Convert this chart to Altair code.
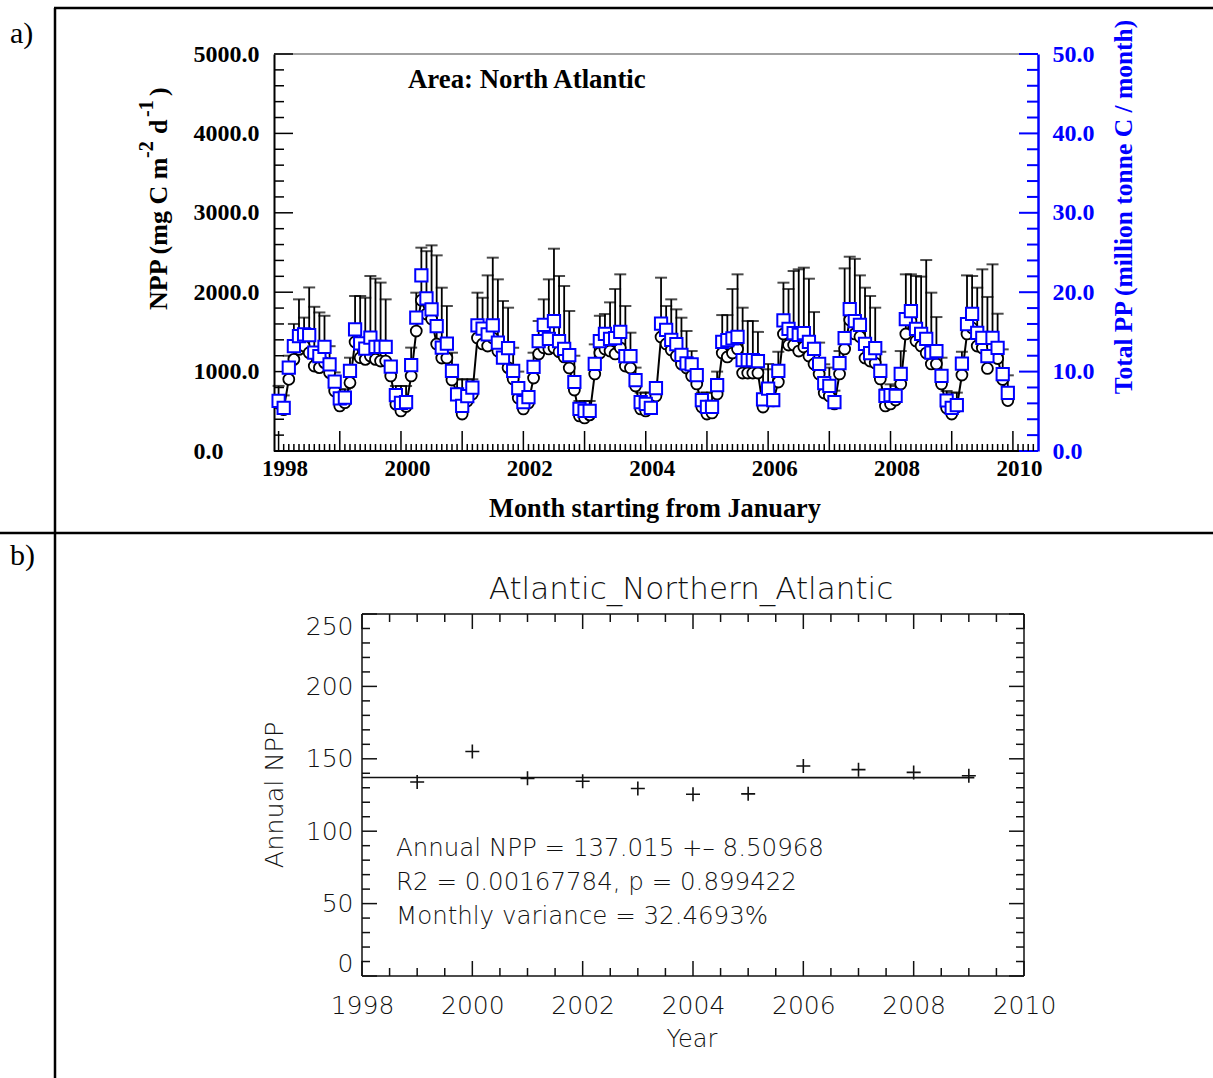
import altair as alt
import numpy as np
import pandas as pd

# ---------------------------------------------------------------------------
# Monthly North Atlantic series, January 1998 .. December 2009
# ---------------------------------------------------------------------------
# mean NPP (mg C m-2 d-1), open black circles
npp_mean = [
    600, 520, 903, 1154, 1280, 1322, 1238, 1070, 1050, 1113, 987, 756,    # 1998
    567, 609, 861, 1373, 1175, 1154, 1196, 1154, 1133, 1133, 945, 588,    # 1999
    504, 560, 945, 1511, 1900, 1725, 1662, 1348, 1171, 1171, 894, 730,    # 2000
    466, 630, 718, 1423, 1348, 1322, 1423, 1259, 1171, 1050, 907, 667,    # 2001
    529, 605, 919, 1222, 1300, 1285, 1300, 1250, 1184, 1045, 768, 441,    # 2002
    416, 455, 970, 1234, 1285, 1259, 1222, 1300, 1070, 1045, 819, 529,    # 2003
    504, 542, 693, 1436, 1348, 1272, 1196, 1096, 1045, 945, 844, 554,     # 2004
    466, 479, 718, 1234, 1184, 1234, 1285, 982, 982, 982, 982, 554,       # 2005
    660, 630, 869, 1474, 1335, 1335, 1259, 1310, 1196, 1096, 970, 730,    # 2006
    693, 592, 970, 1285, 1650, 1474, 1440, 1171, 1133, 1108, 907, 567,    # 2007
    592, 642, 844, 1474, 1637, 1385, 1323, 1234, 1096, 1096, 844, 542,    # 2008
    466, 554, 957, 1474, 1550, 1322, 1297, 1040, 1310, 1165, 900, 635,    # 2009
]
# mean + one standard deviation (top of the error bar)
npp_upper = [
    820, 700, 1200, 1600, 1910, 1680, 2060, 1816, 1745, 1703, 1320, 990,
    777, 777, 1175, 1952, 1952, 1930, 2204, 2171, 2121, 1910, 1100, 819,
    819, 819, 1302, 1994, 2561, 2517, 2590, 2464, 2057, 1826, 1238, 903,
    903, 903, 903, 1994, 1930, 2212, 2435, 2162, 1889, 1805, 1300, 1000,
    700, 750, 1238, 1637, 1910, 2162, 2548, 2204, 2078, 1763, 1200, 630,
    630, 630, 1343, 1703, 1725, 1872, 2040, 2225, 1826, 1490, 1050, 735,
    735, 735, 800, 2183, 1826, 1910, 1784, 1679, 1511, 1259, 1000, 735,
    735, 735, 1000, 1712, 1712, 2040, 2225, 1805, 1637, 1637, 1500, 1029,
    1096, 1029, 1250, 2120, 2040, 2267, 2288, 2309, 2170, 1750, 1365, 1092,
    1050, 760, 1259, 2300, 2447, 2420, 2212, 2057, 1952, 1805, 1250, 777,
    840, 819, 1259, 2225, 2225, 2204, 2196, 2405, 1994, 1687, 1175, 756,
    735, 735, 1250, 2212, 2204, 2057, 2288, 1940, 2351, 1729, 1280, 953,
]
# total PP (million tonne C / month), blue squares on the right axis
total_pp = [
    6.31, 5.43, 10.50, 13.22, 14.48, 14.70, 14.60, 12.38, 11.96, 13.10, 10.91, 8.73,
    6.63, 6.72, 10.08, 15.32, 13.56, 12.89, 14.28, 13.10, 13.10, 13.10, 10.62, 7.05,
    6.05, 6.17, 10.83, 16.80, 22.12, 19.22, 17.84, 15.74, 13.02, 13.52, 10.08, 7.14,
    5.67, 6.92, 7.97, 15.83, 15.41, 14.70, 15.83, 13.65, 11.75, 12.97, 10.08, 7.93,
    6.17, 6.80, 10.58, 13.85, 15.87, 14.11, 16.37, 13.85, 12.85, 12.09, 8.69, 5.29,
    5.04, 5.04, 10.96, 13.85, 14.74, 14.11, 14.23, 14.99, 11.96, 11.96, 8.94, 6.17,
    5.92, 5.42, 7.93, 16.03, 15.24, 14.00, 13.45, 12.10, 11.05, 10.91, 9.57, 6.40,
    5.56, 5.56, 8.31, 13.73, 13.96, 14.19, 14.38, 11.44, 11.44, 11.44, 11.33, 6.50,
    7.85, 6.42, 10.08, 16.45, 15.37, 14.86, 14.61, 14.86, 13.73, 12.85, 10.96, 8.56,
    8.19, 6.17, 11.08, 14.23, 17.88, 16.37, 15.87, 13.48, 12.34, 12.97, 10.08, 6.93,
    7.05, 6.93, 9.70, 16.62, 17.63, 15.37, 14.74, 14.11, 12.38, 12.59, 9.45, 6.36,
    5.42, 5.79, 11.00, 15.97, 17.28, 14.88, 14.25, 11.96, 14.25, 13.00, 9.68, 7.33,
]

# Annual NPP, Atlantic_Northern_Atlantic
annual_year = [1999, 2000, 2001, 2002, 2003, 2004, 2005, 2006, 2007, 2008, 2009]
annual_npp = [134.0, 155.0, 136.5, 134.5, 129.5, 125.5, 125.8, 145.0, 142.5, 140.6, 138.3]

stats_lines = [
    "Annual NPP = 137.015 +\u2013 8.50968",
    "R2 = 0.00167784, p = 0.899422",
    "Monthly variance = 32.4693%",
]

# tick values
npp_major = [0, 1000, 2000, 3000, 4000, 5000]
npp_minor = [v for v in range(0, 5001, 200) if v % 1000]
pp_major = [0, 10, 20, 30, 40, 50]
pp_minor = [v for v in range(0, 51, 2) if v % 10]
year_major = list(range(1998, 2011))
year_labels = list(range(1998, 2011, 2))
by_major = [0, 50, 100, 150, 200, 250]
by_minor = [v for v in range(0, 251, 10) if v % 50]
bx_minor = [1998 + k / 2 for k in range(25) if k % 4]

W, H = 1213, 1078
SERIF = "Liberation Serif"
SANS = "DejaVu Sans"
LIGHT = 200
BLUE = "#0000ff"
INK_B = "#111111"

months = pd.date_range("1998-01-01", periods=144, freq="MS")
monthly = pd.DataFrame({
    "t": months.year + (months.month - 1) / 12.0,
    "npp": npp_mean,
    "top": npp_upper,
    "pp": total_pp,
})
month_minor = [1998 + k / 12 for k in range(149) if k % 12]

annual = pd.DataFrame({"year": annual_year, "npp": annual_npp})

# pixel ranges of the two plot boxes
XA = alt.Scale(domain=[1997.925, 2010.41], range=[274, 1038], nice=False, zero=False)
YA = alt.Scale(domain=[0, 5000], range=[451, 54], nice=False, zero=False)
YR = alt.Scale(domain=[0, 50], range=[451, 54], nice=False, zero=False)
XB = alt.Scale(domain=[1998, 2010], range=[362, 1024], nice=False, zero=False)
YB = alt.Scale(domain=[0, 250], range=[976, 614], nice=False, zero=False)


def one():
    return alt.Chart(pd.DataFrame({"k": [0]}))


def text(s, x, y, size, font=SERIF, weight="bold", color="black", angle=0,
         align="left", baseline="middle"):
    return alt.Chart(pd.DataFrame({"s": [s]})).mark_text(
        font=font, fontSize=size, fontWeight=weight, color=color, angle=angle,
        align=align, baseline=baseline,
    ).encode(text="s:N", x=alt.value(x), y=alt.value(y))


def hline(x1, x2, y, color="black", w=2.0):
    return one().mark_rule(color=color, strokeWidth=w).encode(
        x=alt.value(x1), x2=alt.value(x2), y=alt.value(y))


def vline(x, y1, y2, color="black", w=2.0):
    return one().mark_rule(color=color, strokeWidth=w).encode(
        x=alt.value(x), y=alt.value(y1), y2=alt.value(y2))


def yticks(values, scale, x1, x2, color="black", w=1.5, axis=None):
    return alt.Chart(pd.DataFrame({"v": values})).mark_rule(color=color, strokeWidth=w).encode(
        y=alt.Y("v:Q", scale=scale, axis=axis), x=alt.value(x1), x2=alt.value(x2))


def xticks(values, scale, y1, y2, color="black", w=1.5, axis=None):
    return alt.Chart(pd.DataFrame({"v": values})).mark_rule(color=color, strokeWidth=w).encode(
        x=alt.X("v:Q", scale=scale, axis=axis), y=alt.value(y1), y2=alt.value(y2))


def axis(**kw):
    base = dict(ticks=False, tickSize=0, grid=False, title=None, labelOverlap=False)
    base.update(kw)
    return alt.Axis(**base)


layers = []

# ---- table rules and panel letters ----
layers += [
    hline(54, W, 8, w=2.5),
    vline(55, 8, H, w=2.5),
    hline(0, W, 533, w=2.5),
    text("a)", 10, 34, 30, weight="normal"),
    text("b)", 10, 556, 30, weight="normal"),
]

# ---- panel a: axes ----
ax_npp = axis(orient="left", offset=-274, values=npp_major, format=".1f",
              domain=True, domainColor="black", domainWidth=2,
              labelFont=SERIF, labelFontWeight="bold", labelFontSize=24,
              labelColor="black", labelAlign="left", labelBaseline="middle",
              labelPadding=81)
ax_pp = axis(orient="right", offset=-(W - 1038), values=pp_major, format=".1f",
             domain=True, domainColor=BLUE, domainWidth=2.5,
             labelFont=SERIF, labelFontWeight="bold", labelFontSize=24,
             labelColor=BLUE, labelAlign="left", labelBaseline="middle",
             labelPadding=14)
# year labels sit a little to the right of their ticks
ax_month = axis(orient="bottom", offset=-(H - 451), position=6, values=year_labels,
                format="d", domain=False,
                labelFont=SERIF, labelFontWeight="bold", labelFontSize=23,
                labelColor="black", labelAlign="center", labelBaseline="top",
                labelPadding=6)

layers += [
    hline(274, 1038, 54, color="#808080", w=1.5),
    hline(274, 1038, 451, color="black", w=2),
    yticks(npp_major, YA, 274, 293, axis=ax_npp),
    yticks(npp_minor, YA, 274, 284),
    yticks(pp_major, YR, 1038, 1019, color=BLUE, w=2, axis=ax_pp),
    yticks(pp_minor, YR, 1038, 1027, color=BLUE, w=2),
    xticks(year_major, XA, 451, 431, axis=ax_month),
    xticks(month_minor, XA, 451, 444),
]

# ---- panel a: data ----
base_a = alt.Chart(monthly)
xa = alt.X("t:Q", scale=XA, axis=None)
layers += [
    base_a.mark_rule(color="black", strokeWidth=1.8).encode(
        x=xa, y=alt.Y("npp:Q", scale=YA, axis=None), y2="top:Q"),
    base_a.mark_tick(orient="horizontal", color="black", size=12, thickness=2).encode(
        x=xa, y=alt.Y("top:Q", scale=YA, axis=None)),
    base_a.mark_line(color="black", strokeWidth=2).encode(
        x=xa, y=alt.Y("npp:Q", scale=YA, axis=None)),
    base_a.mark_point(shape="circle", filled=True, fill="white", stroke="black",
                      strokeWidth=1.8, size=120, opacity=1).encode(
        x=xa, y=alt.Y("npp:Q", scale=YA, axis=None)),
    base_a.mark_point(shape="square", filled=True, fill="white", stroke=BLUE,
                      strokeWidth=2, size=150, opacity=1).encode(
        x=xa, y=alt.Y("pp:Q", scale=YR, axis=None)),
]

# ---- panel a: titles ----
layers += [
    text("Area: North Atlantic", 408, 80, 26.8),
    text("Month starting from January", 655, 509, 26.3, align="center"),
    text("Total PP (million tonne C / month)", 1124, 207, 25.5, color=BLUE,
         angle=270, align="center"),
    # NPP (mg C m-2 d-1) with raised exponents, reading bottom to top
    text("NPP (mg C m", 159, 310, 26, angle=270),
    text("-2", 147, 158, 20, angle=270),
    text("d", 159, 134, 26, angle=270),
    text("-1", 147, 117, 20, angle=270),
    text(")", 159, 96, 26, angle=270),
]

# ---- panel b: frame and axes ----
by_baseline = {
    "condition": [
        {"test": "datum.value == 250", "value": "top"},
        {"test": "datum.value == 0", "value": "bottom"},
    ],
    "value": "middle",
}
ax_by = axis(orient="left", offset=-362, values=by_major, format="d", domain=False,
             labelFont=SANS, labelFontWeight=LIGHT, labelFontSize=25,
             labelColor=INK_B, labelAlign="right", labelBaseline=by_baseline,
             labelPadding=9)
ax_bx = axis(orient="bottom", offset=-(H - 976), values=year_labels, format="d",
             domain=False, labelFont=SANS, labelFontWeight=LIGHT, labelFontSize=25,
             labelColor=INK_B, labelAlign="center", labelBaseline="top",
             labelPadding=17)

layers += [
    hline(362, 1024, 614, color="#111111", w=1.5),
    hline(362, 1024, 976, color="#111111", w=1.5),
    vline(362, 614, 976, color="#111111", w=1.5),
    vline(1024, 614, 976, color="#111111", w=1.5),
    yticks(by_major, YB, 362, 377, color="#111111", axis=ax_by),
    yticks(by_minor, YB, 362, 370, color="#111111"),
    yticks(by_major, YB, 1024, 1009, color="#111111"),
    yticks(by_minor, YB, 1024, 1016, color="#111111"),
    xticks(year_labels, XB, 976, 961, color="#111111", axis=ax_bx),
    xticks(bx_minor, XB, 976, 968, color="#111111"),
    xticks(year_labels, XB, 614, 629, color="#111111"),
    xticks(bx_minor, XB, 614, 622, color="#111111"),
]

# ---- panel b: annual values and fitted trend ----
base_b = alt.Chart(annual)
xb = alt.X("year:Q", scale=XB, axis=None)
yb = alt.Y("npp:Q", scale=YB, axis=None)
layers += [
    base_b.transform_regression("year", "npp", extent=[1998, 2009.1]).mark_line(
        color="#111111", strokeWidth=1.6).encode(x=xb, y=yb),
    base_b.mark_point(shape="M-1,0H1M0,-1V1", stroke="#111111", strokeWidth=1.6,
                      size=196, opacity=1).encode(x=xb, y=yb),
]

# ---- panel b: texts ----
layers += [
    text("Atlantic_Northern_Atlantic", 691, 590, 31, font=SANS, weight=LIGHT,
         color=INK_B, align="center"),
    text("Year", 692, 1040, 24, font=SANS, weight=LIGHT, color=INK_B, align="center"),
    text("Annual NPP", 275, 795, 25.5, font=SANS, weight=LIGHT, color=INK_B,
         angle=270, align="center"),
]
for i, line in enumerate(stats_lines):
    layers.append(text(line, 396, 849 + 34 * i, 24.5, font=SANS, weight=LIGHT,
                       color=INK_B))

chart = (
    alt.layer(*layers)
    .resolve_scale(x="independent", y="independent")
    .properties(width=W, height=H, padding=0,
                autosize=alt.AutoSizeParams(type="none"),
                background="white")
    .configure_view(stroke=None)
)

chart.save("out.html", embed_options={"renderer": "svg", "actions": False})
